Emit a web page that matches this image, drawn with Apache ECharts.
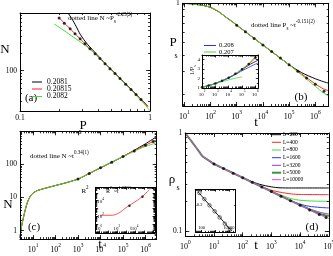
<!DOCTYPE html>
<html><head><meta charset="utf-8">
<script src="https://cdn.jsdelivr.net/npm/echarts@6/dist/echarts.min.js"></script>
<style>html,body{margin:0;padding:0;background:#fff}#c{width:333px;height:256px}</style>
</head><body><div id="c"></div>
<script>
// ---------------- DATA ----------------
// Panel (a): N vs P_s
const aLegend = ['0.2081', '0.20815', '0.2082'];
const aBlackP = [0.234,0.25,0.27,0.29,0.31,0.33,0.36,0.40,0.45,0.5,0.6,0.7,0.8,0.9,0.965];
const aBlackN = [1000,800,590,430,345,288,232,180,135,106,70.5,49.8,36.8,28.2,24.2];
const aRedP = [0.2,0.22,0.25,0.3,0.35,0.4,0.45,0.5,0.6,0.7,0.8,0.9,0.965];
const aRedN = [823,664,498,330,233,173,133,105,69.4,49.1,36.3,27.9,23.8];
const aGreenP = [0.183,0.2,0.22,0.25,0.29,0.33,0.37,0.41,0.45,0.5,0.6,0.7,0.8,0.9,0.95,0.98,1.0];
const aGreenN = [646,565,490,400,318,255,205,165,134,105,69,48.5,35.5,26.8,23.3,21.3,20];
const aDotP = [0.2,0.219,0.243,0.265,0.29,0.316,0.345,0.378,0.412,0.451,0.492,0.538,0.588,0.65,0.714,0.78,0.853];
const aDotN = [823,664,531,437,356,294,241,196,162,132,108,89,73,58,47,38.5,31.5];
const aXLabels = [0.1, 1];
const aYLabels = [100];

// Panel (b): P_s vs t
const bTrunkT = [8.7,10,20,50,100,200,400,700,1000,2000,5000,1e4,3e4,1e5];
const bTrunkP = [1.0,0.998,0.99,0.965,0.93,0.865,0.78,0.72,0.68,0.612,0.533,0.48,0.407,0.339];
const bTailT = [3e5,1e6,2e6,3.2e6];
const bBlackTail = [0.295,0.265,0.252,0.245];
const bRedTail = [0.288,0.242,0.222,0.215];
const bGreenTail = [0.283,0.232,0.207,0.196];
const bDotT = [1e3,2154,4642,1e4,21544,46416,1e5,215443,464159,1e6,2154435];
const bDotP = [0.680,0.606,0.539,0.480,0.428,0.381,0.339,0.302,0.269,0.240,0.213];
const bXLabels = [10,100,1e3,1e4,1e5,1e6];
const bYLabels = [1];
// inset (b): 1/P_s vs t
const ibLegend = ['0.208', '0.207'];
const ibT = [100,316,1000,3162,1e4,31623,1e5,316228,1e6,1.6e6];
const ibBlack = [1.075,1.25,1.47,1.75,2.08,2.46,2.92,3.38,3.77,3.9];
const ibRed = [1.075,1.25,1.47,1.75,2.08,2.48,2.95,3.48,4.13,4.4];
const ibGreen = [1.075,1.25,1.47,1.75,2.08,2.49,2.99,3.55,4.31,4.6];
const ibBlue = [1.075,1.25,1.47,1.74,2.05,2.4,2.8,3.15,3.5,3.6];
const ibGreen2T = [100,316,1000,3162,1e4,31623,1e5];
const ibGreen2 = [1.075,1.24,1.44,1.65,1.85,2.02,2.17];
const ibDotT = [100,316,1000,3162,1e4,31623,1e5,316228,1e6];
const ibDotV = [1.075,1.25,1.47,1.75,2.08,2.48,2.95,3.51,4.17];
const ibXLabels = [1e2,1e3,1e4,1e5,1e6];
const ibYLabels = [1,2,3,4];

// Panel (c): N vs t
const cTrunkT = [2.64,3,4,5,6,8,10,15,30,60,100,300,1000,3000,1e4,3e4,1e5];
const cTrunkN = [0.6,1.2,3,5.5,8,11.5,13.5,16,18.5,21,23,28,36,52.3,78.8,114,172];
const cTailT = [3e5,1e6,3.15e6];
const cBlackTail = [262,420,690];
const cRedTail = [254,380,555];
const cGreenTail = [246,350,450];
const cDotT = [1e3,3162,1e4,31623,1e5,316228,1e6,2.2e6];
const cDotN = [36,53.3,78.8,116.5,172,254,377,493];
const cXLabels = [10,100,1e3,1e4,1e5,1e6];
const cYLabels = [1,10,100];
// inset (c): R^2 vs t
const icT = [1.28,5,31,170,890,4150,23000,1e5,4e5];
const icR2 = [134,134,135,265,1150,3800,13500,54000,257000];
const icDotT = [2400,66000];
const icDotR2 = [2300,33000];
const icXLabels = [1,100,1e4];
const icYLabels = [100,1e4];

// Panel (d): rho_s vs t
const dLegend = ['L=200','L=400','L=800','L=1600','L=3200','L=5000','L=10000'];
const dTrunkT = [1,2,3,4,6,10,21.5,46.4,100];
const dTrunkR = [1,0.762,0.65,0.58,0.535,0.484,0.435,0.390,0.351];
const dTailT = [
  [200,400,1000,2000,5000,1e4,1e5],
  [215,464,1000,2000,5000,1e4,1e5],
  [215,464,1000,2000,5000,1e4,3e4,1e5],
  [215,464,1000,2154,5000,1e4,2e4,5e4,1e5],
  [215,464,1000,2154,4642,1e4,2e4,5e4,1e5],
  [215,464,1000,2154,4642,1e4,2e4,5e4,1e5],
  [215,464,1000,2154,4642,1e4,2.15e4,4.64e4,1e5]
];
const dTailR = [
  [0.322,0.300,0.283,0.277,0.276,0.276,0.276],
  [0.315,0.284,0.262,0.250,0.240,0.237,0.236],
  [0.315,0.283,0.256,0.236,0.215,0.207,0.203,0.202],
  [0.315,0.283,0.254,0.229,0.203,0.189,0.180,0.175,0.173],
  [0.315,0.283,0.254,0.228,0.206,0.186,0.170,0.156,0.150],
  [0.315,0.283,0.254,0.228,0.205,0.185,0.168,0.150,0.143],
  [0.315,0.283,0.254,0.228,0.205,0.184,0.165,0.148,0.135]
];
const dDotT = [10,21.5,46.4,100,215,464,1000,2154,4642,1e4,2.15e4,4.64e4,8e4];
const dDotR = [0.484,0.435,0.390,0.351,0.315,0.283,0.254,0.228,0.205,0.184,0.165,0.148,0.138];
const dXLabels = [1,10,100,1e3,1e4,1e5];
const dYLabels = [0.1,1];
// inset (d)
const idL = [70,160,380,900,2100,5000,12000];
const idR = [0.275,0.235,0.200,0.171,0.146,0.124,0.106];
const idLineL = [55,15000];
const idLineR = [0.285,0.103];
const idXLabels = [100,10000];
const idYLabels = [0.2];

// ---------------- STYLE / BUILD ----------------
const FONT = 'Liberation Serif';
const C = {black:'#000000', red:'#ff2222', green:'#44dd33', blue:'#2233ff', violet:'#9933cc', dgreen:'#339933', magenta:'#ff33ff'};
const dColors = [C.black,C.red,C.green,C.blue,C.violet,C.dgreen,C.magenta];
const dWidths = [1,1,1,1,1,2,1];

const grids = [], xAxes = [], yAxes = [], series = [], gfx = [];
function grid(l,t,w,h,bg){ grids.push({left:l,top:t,width:w,height:h,containLabel:false,outerBoundsMode:'none',show:!!bg,backgroundColor:bg||'transparent',borderWidth:0}); return grids.length-1; }
function logMinors(min,max){ const o=[]; for(let e=Math.floor(Math.log10(min))-1;e<=Math.ceil(Math.log10(max));e++){ for(let m=1;m<10;m++){ const v=+(m*Math.pow(10,e)).toPrecision(6); if(v>=min*0.9999&&v<=max*1.0001) o.push(v);} } return o; }
function logMajors(min,max){ const o=[]; for(let e=Math.floor(Math.log10(min))-1;e<=Math.ceil(Math.log10(max));e++){ const v=+Math.pow(10,e).toPrecision(6); if(v>=min*0.9999&&v<=max*1.0001) o.push(v);} return o; }
const fmtPlain = v => String(+(+v).toPrecision(6));
const fmtPow = v => '{b|10}{s|' + Math.round(Math.log10(v)) + '}';
function richFor(fs){ return { b:{fontSize:fs,fontFamily:FONT,color:'#000',lineHeight:fs*1.35,verticalAlign:'bottom'}, s:{fontSize:fs*0.68,fontFamily:FONT,color:'#000',lineHeight:fs*0.7,verticalAlign:'top'} }; }

function addAxes(dim, gi, c){
  const arr = dim==='x'?xAxes:yAxes;
  const posA = dim==='x'?'bottom':'left', posB = dim==='x'?'top':'right';
  const idx = arr.length;
  const major = c.major || (c.type==='log'?logMajors(c.min,c.max):[]);
  const minor = c.minor || (c.type==='log'?logMinors(c.min,c.max):[]);
  const base = {gridIndex:gi,type:c.type,min:c.min,max:c.max,splitLine:{show:false},minorSplitLine:{show:false},axisPointer:{show:false},silent:true,z:5};
  if(c.type==='log') base.logBase=10;
  const mk=(pos,vals,len,line,label)=>Object.assign({},base,{
    position:pos,
    axisLine:{show:line,onZero:false,lineStyle:{color:'#000',width:1}},
    axisTick:{show:true,inside:true,length:len,customValues:vals,lineStyle:{color:'#000',width:0.8}},
    minorTick:{show:false},
    axisLabel: label?{show:true,customValues:c.labels,formatter:c.fmt,fontFamily:FONT,fontSize:c.fs||8,color:'#000',margin:c.margin!=null?c.margin:3,inside:!!c.inside,rich:richFor(c.fs||8),showMinLabel:true,showMaxLabel:true,hideOverlap:false}:{show:false}
  });
  const ml=c.majLen||4, nl=c.minLen||2;
  arr.push(mk(posA,major,ml,true,true));
  arr.push(mk(posA,minor,nl,false,false));
  arr.push(mk(posB,major,ml,true,false));
  arr.push(mk(posB,minor,nl,false,false));
  return idx;
}
function line(xi,yi,xs,ys,color,w,z){ return {type:'line',xAxisIndex:xi,yAxisIndex:yi,data:xs.map((x,i)=>[x,ys[i]]),symbol:'none',showSymbol:false,lineStyle:{color:color,width:w||1},smooth:0.25,z:z||2,silent:true,animation:false}; }
function dots(xi,yi,xs,ys,size,open){ return {type:'scatter',xAxisIndex:xi,yAxisIndex:yi,data:xs.map((x,i)=>[x,ys[i]]),symbol:'circle',symbolSize:size||3.5,itemStyle:{color:open?'rgba(0,0,0,0)':'#000',borderColor:'#000',borderWidth:open?0.7:0},z:6,silent:true,animation:false}; }
function txt(x,y,text,fs,align,extra){ const o={type:'text',x:x,y:y,z:100,silent:true,style:Object.assign({text:text,fill:'#000',fontSize:fs,fontFamily:FONT,align:align||'center',verticalAlign:'middle'},extra||{})}; gfx.push(o); }
function rtxt(x,y,text,fs,align,rot){ const o={type:'text',x:x,y:y,z:100,rotation:rot||0,silent:true,style:{text:text,fill:'#000',fontSize:fs,fontFamily:FONT,align:align||'left',verticalAlign:'middle',rich:{
  b:{fontSize:fs,fontFamily:FONT,lineHeight:fs*1.7,verticalAlign:'middle'},
  p:{fontSize:fs*0.72,fontFamily:FONT,lineHeight:fs*0.8,verticalAlign:'top'},
  d:{fontSize:fs*0.72,fontFamily:FONT,lineHeight:fs*0.8,verticalAlign:'bottom'} }}}; gfx.push(o); }
function lseg(x1,y1,x2,y2,color,w){ gfx.push({type:'line',z:100,silent:true,shape:{x1:x1,y1:y1,x2:x2,y2:y2},style:{stroke:color,lineWidth:w||1}}); }

// ---- Panel (a)
const gA = grid(20,13,130,98);
const axA = addAxes('x',gA,{type:'log',min:0.1,max:1,labels:aXLabels,fmt:fmtPlain,fs:7.5});
const ayA = addAxes('y',gA,{type:'log',min:20,max:1000,labels:aYLabels,fmt:fmtPlain,fs:7.5,margin:3});
series.push(line(axA,ayA,aBlackP,aBlackN,C.black));
series.push(line(axA,ayA,aRedP,aRedN,C.red));
series.push(line(axA,ayA,aGreenP,aGreenN,C.green));
series.push(dots(axA,ayA,aDotP,aDotN,3));

// ---- Panel (b)
const gB = grid(182.7,3.3,146,102.7);
const axB = addAxes('x',gB,{type:'log',min:8.69,max:3.24e6,labels:bXLabels,fmt:fmtPow,fs:8,margin:4});
const ayB = addAxes('y',gB,{type:'log',min:0.164,max:1,labels:bYLabels,fmt:fmtPlain,fs:7.5});
series.push(line(axB,ayB,bTrunkT.concat(bTailT),bTrunkP.concat(bBlackTail),C.black));
series.push(line(axB,ayB,bTrunkT.concat(bTailT),bTrunkP.concat(bRedTail),C.red));
series.push(line(axB,ayB,bTrunkT.concat(bTailT),bTrunkP.concat(bGreenTail),C.green));
series.push(dots(axB,ayB,bDotT,bDotP,3));
// inset (b)
const gBi = grid(202,55,56.3,33,'#fff');
const axBi = addAxes('x',gBi,{type:'log',min:100,max:1.66e6,labels:ibXLabels,fmt:fmtPow,fs:5,margin:2,majLen:2.5,minLen:1.5});
const ayBi = addAxes('y',gBi,{type:'value',min:1,max:4.45,major:[1,2,3,4],minor:[1.5,2.5,3.5],labels:ibYLabels,fmt:fmtPlain,fs:5,margin:2,majLen:2.5,minLen:1.5});
series.push(line(axBi,ayBi,ibT,ibBlack,C.black,0.8));
series.push(line(axBi,ayBi,ibT,ibRed,C.red,0.8));
series.push(line(axBi,ayBi,ibT,ibGreen,C.green,0.8));
series.push(line(axBi,ayBi,ibT,ibBlue,C.blue,0.8));
series.push(line(axBi,ayBi,ibGreen2T,ibGreen2,C.green,0.8));
series.push(dots(axBi,ayBi,ibDotT,ibDotV,2.5));

// ---- Panel (c)
const gC = grid(20,131.3,136.7,107.7);
const axC = addAxes('x',gC,{type:'log',min:2.64,max:3.15e6,labels:cXLabels,fmt:fmtPow,fs:8,margin:4});
const ayC = addAxes('y',gC,{type:'log',min:0.557,max:1000,labels:cYLabels,fmt:fmtPlain,fs:7.5});
series.push(line(axC,ayC,cTrunkT.concat(cTailT),cTrunkN.concat(cBlackTail),C.black));
series.push(line(axC,ayC,cTrunkT.concat(cTailT),cTrunkN.concat(cRedTail),C.red));
series.push(line(axC,ayC,cTrunkT.concat(cTailT),cTrunkN.concat(cGreenTail),C.green));
series.push(dots(axC,ayC,cDotT,cDotN,3));
// inset (c)
const gCi = grid(95.7,187.3,59.3,45.7,'#fff');
const axCi = addAxes('x',gCi,{type:'log',min:0.45,max:1.6e6,labels:icXLabels,fmt:fmtPow,fs:5,margin:1.5,inside:true,majLen:2.5,minLen:1.5});
const ayCi = addAxes('y',gCi,{type:'log',min:0.72,max:5.2e5,labels:icYLabels,fmt:fmtPow,fs:5,margin:1.5,inside:true,majLen:2.5,minLen:1.5});
series.push(line(axCi,ayCi,icT,icR2,C.red,0.8));
series.push(dots(axCi,ayCi,icDotT,icDotR2,2.5));

// ---- Panel (d)
const gD = grid(185.3,133,143.5,103.3);
const axD = addAxes('x',gD,{type:'log',min:1,max:1e5,labels:dXLabels,fmt:fmtPow,fs:8,margin:4});
const ayD = addAxes('y',gD,{type:'log',min:0.089,max:1,labels:dYLabels,fmt:fmtPlain,fs:7.5});
for(let k=0;k<dLegend.length;k++){
  series.push(line(axD,ayD,dTrunkT.concat(dTailT[k]),dTrunkR.concat(dTailR[k]),dColors[k],dWidths[k],2+k*0.01));
}
series.push(dots(axD,ayD,dDotT,dDotR,3));
// inset (d)
const gDi = grid(195.3,189.7,40,42.3,'#fff');
const axDi = addAxes('x',gDi,{type:'log',min:35,max:29000,labels:idXLabels,fmt:fmtPlain,fs:4.5,margin:1.5,inside:true,majLen:2,minLen:1.2});
const ayDi = addAxes('y',gDi,{type:'log',min:0.1,max:0.3,labels:idYLabels,fmt:fmtPlain,fs:4.5,margin:1.5,inside:true,majLen:2,minLen:1.2});
series.push(line(axDi,ayDi,idLineL,idLineR,C.black,0.9));
series.push(dots(axDi,ayDi,idL,idR,3.5,true));

// ---------------- TEXT ----------------
// (a)
txt(5,50,'N',13);
txt(83,126,'P',13);
txt(80,132,'s',8);
txt(31,98,'(a)',11);
rtxt(68,18,'{b|dotted line N ~P}{d|s}{p|-2.25(2)}',7,'left');
const aLegCol=[C.black,C.red,C.green];
[82,89,96.5].forEach((y,i)=>{ lseg(32,y,42,y,aLegCol[i],1); txt(47,y,aLegend[i],7.5,'left'); });
// (b)
txt(173,43,'P',13);
txt(176,56,'s',8);
txt(256,123,'t',13);
txt(301,97,'(b)',11);
rtxt(251,25,'{b|dotted line P}{d|s}{b| ~t}{p|-0.151(2)}',7,'left');
[[C.blue,45.5],[C.green,52]].forEach((e,i)=>{ lseg(204,e[1],216,e[1],e[0],1); txt(219,e[1],ibLegend[i],6.5,'left'); });
rtxt(192,70,'{b|1/P}{d|s}',6,'center',Math.PI/2);
// (c)
txt(8,205,'N',13);
txt(100,245,'t',13);
txt(34,227,'(c)',11);
rtxt(30,156,'{b|dotted line N ~t}{p|0.34(1)}',7,'left');
rtxt(85,191,'{b|R}{p|2}',7,'center');
rtxt(106,191,'{b|R}{p|2}{b| ~t}{p|1.27(2)}',6,'left');
rtxt(131,228.5,'{b|t}',6,'center');
// (d)
txt(172,180,'ρ',13);
txt(178,188,'s',8);
txt(256,246,'t',13);
txt(312,227,'(d)',11);
const dLegY=[134.7,142.3,150,157.7,165.3,172.7,179.7];
dLegY.forEach((y,i)=>{ lseg(272,y,281,y,dColors[i],dWidths[i]); txt(283,y,dLegend[i],5.5,'left'); });

const chart = echarts.init(document.getElementById('c'),null,{renderer:'canvas'});
chart.setOption({animation:false,backgroundColor:'#fff',grid:grids,xAxis:xAxes,yAxis:yAxes,series:series,graphic:{elements:gfx}});
</script></body></html>
